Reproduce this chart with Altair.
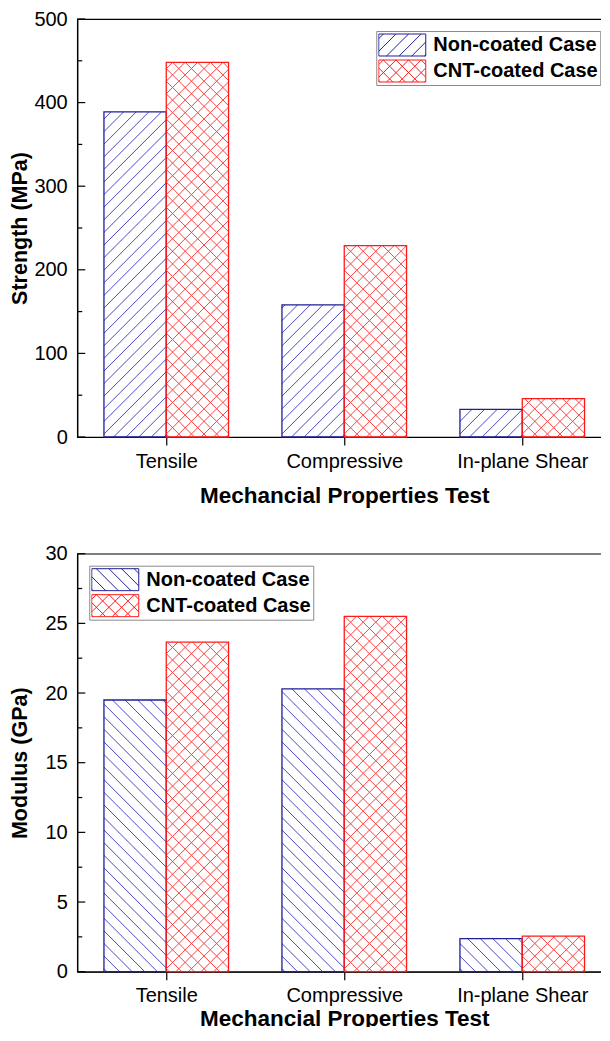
import json
import altair as alt
import pandas as pd

# ---------------- data ----------------
categories = ["Tensile", "Compressive", "In-plane Shear"]
cases = ["Non-coated Case", "CNT-coated Case"]
strength_non = [389, 158, 33]
strength_cnt = [448, 229, 46]
modulus_non = [19.5, 20.3, 2.37]
modulus_cnt = [23.65, 25.5, 2.55]

# ---------------- style ----------------
FONT = "Liberation Sans"
W, H = 534, 418
XMIN, XMAX = -0.5, 2.5
BW = 0.35              # bar width in category units
SX = W / (XMAX - XMIN)  # px per category unit
SP = 12.6              # hatch spacing (px, horizontal)
BLUE, BLUE_H = "#1f1f99", "#4a4ac0"
RED, RED_H = "#ff1a1a", "#ff4040"
SW = 47                # legend swatch width
SH = 22                # legend swatch height


def swatch_path(up, down):
    h = SH / SW
    s = SP / (SW / 2)
    parts = [f"M-1,{-h:.3f}L1,{-h:.3f}L1,{h:.3f}L-1,{h:.3f}Z"]
    n = int((1 + h) / s) + 2
    for k in range(-n, n + 1):
        c = k * s + 0.2
        if up:  # y = x + c (math coords), svg y = -y
            xs, xe = max(-1, -h - c), min(1, h - c)
            if xe - xs > 0.02:
                parts.append(f"M{xs:.3f},{-(xs + c):.3f}L{xe:.3f},{-(xe + c):.3f}")
        if down:  # y = -x + c
            xs, xe = max(-1, c - h), min(1, c + h)
            if xe - xs > 0.02:
                parts.append(f"M{xs:.3f},{-(c - xs):.3f}L{xe:.3f},{-(c - xe):.3f}")
    return "".join(parts)


def panel(non, cnt, ymax, ystep, ytitle, non_up, lx, ly, xtitle_pad):
    sy = H / ymax
    rows = []
    for i, cat in enumerate(categories):
        rows.append(dict(ci=i, cat=cat, case=cases[0], value=non[i],
                         up=non_up, down=not non_up))
        rows.append(dict(ci=i, cat=cat, case=cases[1], value=cnt[i],
                         up=True, down=True))
    df = pd.DataFrame(rows)

    xaxis = alt.Axis(values=[0, 1, 2],
                     labelExpr=f"{json.dumps(categories)}[datum.value]",
                     title="Mechancial Properties Test", grid=False,
                     tickSize=8, tickColor="black", tickWidth=1.2,
                     domainColor="black", domainWidth=1.2,
                     labelFont=FONT, labelFontSize=20, labelColor="black",
                     labelPadding=6, labelFlush=False, labelOverlap=False,
                     titleFont=FONT, titleFontSize=22.5, titleFontWeight="bold",
                     titleColor="black", titlePadding=xtitle_pad)
    yvals = list(range(0, int(ymax) + 1, ystep))
    yaxis = alt.Axis(values=yvals, grid=False, ticks=False, tickSize=0,
                     domainColor="black", domainWidth=1.2,
                     labelFont=FONT, labelFontSize=20, labelColor="black",
                     labelPadding=10, title=ytitle,
                     titleFont=FONT, titleFontSize=21.5, titleFontWeight="bold",
                     titleColor="black", titleX=-57, titleY=H / 2,
                     titleAngle=270, titleAlign="center", titleBaseline="middle")
    xsc = alt.Scale(domain=[XMIN, XMAX], nice=False, zero=False)
    ysc = alt.Scale(domain=[0, ymax], nice=False)

    base = alt.Chart(df).transform_calculate(
        x0=f"datum.ci + (datum.case == '{cases[0]}' ? {-BW} : 0)"
    ).transform_calculate(
        x1=f"datum.x0 + {BW}", zero="0",
        wpx=f"{BW * SX}", tpx=f"datum.value * {sy}"
    )

    def outline(case, color):
        return base.transform_filter(f"datum.case == '{case}'").mark_rect(
            fill="transparent", stroke=color, strokeWidth=1.3).encode(
            x=alt.X("x0:Q", scale=xsc, axis=xaxis), x2="x1:Q",
            y=alt.Y("value:Q", scale=ysc, axis=yaxis), y2="zero:Q")

    def hatch_up(case, color):
        return base.transform_filter(f"datum.up && datum.case == '{case}'").transform_calculate(
            ks=f"sequence(floor(-datum.wpx / {SP}), ceil(datum.tpx / {SP}) + 1)"
        ).transform_flatten(["ks"], as_=["k"]).transform_calculate(
            c=f"datum.k * {SP} + 3"
        ).transform_calculate(
            us="max(0, -datum.c)", ue="min(datum.wpx, datum.tpx - datum.c)"
        ).transform_filter("datum.ue - datum.us > 0.5").transform_calculate(
            hx=f"datum.x0 + datum.us / {SX}", hx2=f"datum.x0 + datum.ue / {SX}",
            hy=f"(datum.us + datum.c) / {sy}", hy2=f"(datum.ue + datum.c) / {sy}"
        ).mark_rule(color=color, strokeWidth=1).encode(
            x=alt.X("hx:Q", scale=xsc, axis=xaxis), x2="hx2:Q",
            y=alt.Y("hy:Q", scale=ysc, axis=yaxis), y2="hy2:Q")

    def hatch_down(case, color):
        return base.transform_filter(f"datum.down && datum.case == '{case}'").transform_calculate(
            ks=f"sequence(0, ceil((datum.wpx + datum.tpx) / {SP}) + 1)"
        ).transform_flatten(["ks"], as_=["k"]).transform_calculate(
            c=f"datum.k * {SP} + 3"
        ).transform_calculate(
            us="max(0, datum.c - datum.tpx)", ue="min(datum.wpx, datum.c)"
        ).transform_filter("datum.ue - datum.us > 0.5").transform_calculate(
            hx=f"datum.x0 + datum.us / {SX}", hx2=f"datum.x0 + datum.ue / {SX}",
            hy=f"(datum.c - datum.us) / {sy}", hy2=f"(datum.c - datum.ue) / {sy}"
        ).mark_rule(color=color, strokeWidth=1).encode(
            x=alt.X("hx:Q", scale=xsc, axis=xaxis), x2="hx2:Q",
            y=alt.Y("hy:Q", scale=ysc, axis=yaxis), y2="hy2:Q")

    if non_up:
        non_hatch = hatch_up(cases[0], BLUE_H)
    else:
        non_hatch = hatch_down(cases[0], BLUE_H)

    # inward y ticks (major + minor)
    tdf = pd.DataFrame({"t": yvals})
    mdf = pd.DataFrame({"t": [v + ystep / 2 for v in yvals[:-1]]})
    major = alt.Chart(tdf).mark_rule(color="black", strokeWidth=1.2).encode(
        x=alt.value(0), x2=alt.value(8),
        y=alt.Y("t:Q", scale=ysc, axis=yaxis))
    minor = alt.Chart(mdf).mark_rule(color="black", strokeWidth=1.2).encode(
        x=alt.value(0), x2=alt.value(5),
        y=alt.Y("t:Q", scale=ysc, axis=yaxis))

    non_path = swatch_path(non_up, not non_up)
    cnt_path = swatch_path(True, True)
    legend = alt.Legend(title=None, orient="none", legendX=lx, legendY=ly,
                        symbolSize=SW * SW, clipHeight=SH + 2, rowPadding=2,
                        symbolStrokeWidth=1, symbolOpacity=1,
                        symbolFillColor="white",
                        labelFont=FONT, labelFontSize=20, labelFontWeight="bold",
                        labelColor="black", labelOffset=7, labelLimit=400,
                        padding=2, strokeColor="#8a8a8a", fillColor="white")
    leg = base.mark_point(opacity=0, filled=False, size=SW * SW).encode(
        x=alt.X("ci:Q", scale=xsc, axis=xaxis),
        y=alt.Y("zero:Q", scale=ysc, axis=yaxis),
        color=alt.Color("case:N", scale=alt.Scale(domain=cases, range=[BLUE, RED]),
                        legend=legend),
        shape=alt.Shape("case:N", scale=alt.Scale(domain=cases, range=[non_path, cnt_path]),
                        legend=legend),
    )
    return alt.layer(
        non_hatch, hatch_up(cases[1], RED_H), hatch_down(cases[1], RED_H),
        outline(cases[0], BLUE), outline(cases[1], RED), major, minor, leg
    ).properties(width=W, height=H)


top = panel(strength_non, strength_cnt, 500, 100, "Strength (MPa)", True, 299, 12, 13)
bottom = panel(modulus_non, modulus_cnt, 30, 5, "Modulus (GPa)", False, 12, 12, 2)

chart = alt.vconcat(top, bottom, spacing=116.7, bounds="flush").resolve_scale(
    color="independent", shape="independent"
).resolve_legend(color="independent", shape="independent").properties(
    padding={"left": 0.25, "top": 0, "right": -11, "bottom": -4}
).configure(font=FONT).configure_view(stroke="black", strokeWidth=1.2)

chart.save("out.html", embed_options={"renderer": "svg", "actions": False})
